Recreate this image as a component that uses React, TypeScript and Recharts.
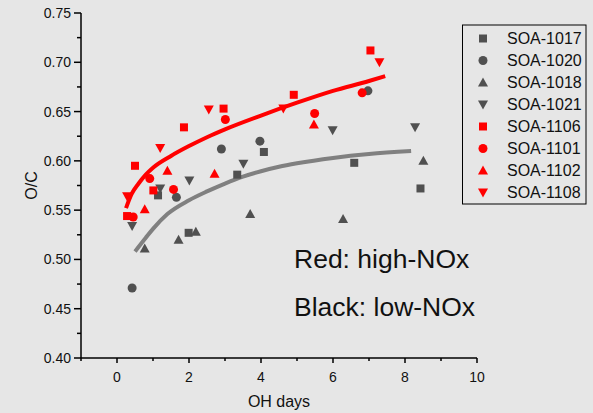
import { ScatterChart, Scatter, XAxis, YAxis, Customized } from "recharts";

type Pt = [number, number];

// measured O/C ratios vs. OH exposure (days)
const soa1017: Pt[] = [[1.14, 0.565], [1.99, 0.527], [3.34, 0.586], [4.08, 0.609], [6.59, 0.598], [8.43, 0.572]];
const soa1020: Pt[] = [[0.42, 0.471], [1.65, 0.563], [2.9, 0.612], [3.97, 0.62], [6.97, 0.671]];
const soa1018: Pt[] = [[0.77, 0.511], [1.71, 0.52], [2.19, 0.528], [3.7, 0.546], [6.28, 0.541], [8.51, 0.6]];
const soa1021: Pt[] = [[0.42, 0.534], [1.2, 0.572], [2.01, 0.58], [3.51, 0.597], [5.99, 0.631], [8.28, 0.634]];
const soa1106: Pt[] = [[0.28, 0.544], [0.5, 0.595], [1.01, 0.57], [1.86, 0.634], [2.96, 0.653], [4.91, 0.667], [7.04, 0.712]];
const soa1101: Pt[] = [[0.45, 0.543], [0.91, 0.582], [1.57, 0.571], [3.01, 0.642], [5.49, 0.648], [6.81, 0.669]];
const soa1102: Pt[] = [[0.77, 0.551], [1.4, 0.59], [2.71, 0.587], [5.47, 0.637]];
const soa1108: Pt[] = [[0.28, 0.564], [1.2, 0.613], [2.55, 0.652], [4.62, 0.653], [7.29, 0.7]];

// fitted trend lines
const highNoxFit: Pt[] = [
  [0.25, 0.552], [0.4, 0.566], [0.6, 0.577], [0.8, 0.586], [1.0, 0.593], [1.5, 0.605], [2.0, 0.615],
  [2.5, 0.624], [3.0, 0.632], [4.0, 0.646], [5.0, 0.659], [6.0, 0.671], [7.0, 0.681], [7.45, 0.686],
];
const lowNoxFit: Pt[] = [
  [0.5, 0.508], [0.8, 0.522], [1.0, 0.531], [1.4, 0.546], [2.0, 0.56], [2.5, 0.569], [3.0, 0.577],
  [3.5, 0.584], [4.0, 0.5895], [4.5, 0.594], [5.0, 0.5975], [6.0, 0.603], [7.0, 0.607], [8.17, 0.61],
];

const xTicks = [-1, 0, 1, 2, 3, 4, 5, 6, 7, 8, 9, 10];
const yTicks = [0.4, 0.425, 0.45, 0.475, 0.5, 0.525, 0.55, 0.575, 0.6, 0.625, 0.65, 0.675, 0.7, 0.725, 0.75];

const GRAY = "#505050";
const RED = "#ff0000";
const FONT = "'Liberation Sans', Arial, sans-serif";

type Kind = "square" | "circle" | "up" | "down";

const series: { name: string; data: Pt[]; kind: Kind; color: string }[] = [
  { name: "SOA-1017", data: soa1017, kind: "square", color: GRAY },
  { name: "SOA-1020", data: soa1020, kind: "circle", color: GRAY },
  { name: "SOA-1018", data: soa1018, kind: "up", color: GRAY },
  { name: "SOA-1021", data: soa1021, kind: "down", color: GRAY },
  { name: "SOA-1106", data: soa1106, kind: "square", color: RED },
  { name: "SOA-1101", data: soa1101, kind: "circle", color: RED },
  { name: "SOA-1102", data: soa1102, kind: "up", color: RED },
  { name: "SOA-1108", data: soa1108, kind: "down", color: RED },
];

const toRows = (pts: Pt[]) => pts.map(([x, y]) => ({ x, y }));

function Marker({ kind, cx, cy, fill }: { kind: Kind; cx: number; cy: number; fill: string }) {
  if (kind === "square") return <rect x={cx - 4} y={cy - 4} width={8} height={8} fill={fill} />;
  if (kind === "circle") return <circle cx={cx} cy={cy} r={4.5} fill={fill} />;
  if (kind === "up")
    return <polygon points={`${cx},${cy - 5} ${cx + 5},${cy + 4} ${cx - 5},${cy + 4}`} fill={fill} />;
  return <polygon points={`${cx - 5},${cy - 4} ${cx + 5},${cy - 4} ${cx},${cy + 5}`} fill={fill} />;
}

const XTick = ({ x, y, payload }: any) => {
  const major = payload.value % 2 === 0;
  return (
    <g>
      <line x1={x} y1={y} x2={x} y2={y + (major ? 5 : 3)} stroke="#000" strokeWidth={1.5} />
      {major && (
        <text x={x} y={y + 24} textAnchor="middle" fontSize={14} fontFamily={FONT} fill="#111">
          {payload.value}
        </text>
      )}
    </g>
  );
};

const YTick = ({ x, y, payload }: any) => {
  const major = Math.round(payload.value * 1000) % 50 === 0;
  return (
    <g>
      <line x1={x} y1={y} x2={x - (major ? 7 : 4)} y2={y} stroke="#000" strokeWidth={1.5} />
      {major && (
        <text x={x - 10} y={y + 5} textAnchor="end" fontSize={14} fontFamily={FONT} fill="#111">
          {payload.value.toFixed(2)}
        </text>
      )}
    </g>
  );
};

const Annotations = () => (
  <g fontFamily={FONT}>
    <text x={31} y={185.5} transform="rotate(-90 31 185.5)" textAnchor="middle" dominantBaseline="central" fontSize={16} fill="#111">
      O/C
    </text>
    <text x={279} y={407} textAnchor="middle" fontSize={16} fill="#111">
      OH days
    </text>
    <text x={294} y={268} fontSize={26.5} fill="#111">
      Red: high-NOx
    </text>
    <text x={294} y={316} fontSize={26.5} fill="#111">
      Black: low-NOx
    </text>
    <rect x={462.5} y={25} width={123.5} height={179} fill="none" stroke="#000" strokeWidth={1} />
    {series.map((s, i) => {
      const cy = 38.5 + i * 22;
      return (
        <g key={s.name}>
          <Marker kind={s.kind} cx={483} cy={cy} fill={s.color} />
          <text x={507} y={cy + 5.5} fontSize={16} fill="#111">
            {s.name}
          </text>
        </g>
      );
    })}
  </g>
);

export default function App() {
  return (
    <div style={{ width: 593, height: 413, background: "#e6e6e6" }}>
      <style>{`body{margin:0}`}</style>
      <ScatterChart width={593} height={413} margin={{ top: 13, right: 116, bottom: 0, left: 0 }}>
        <XAxis
          type="number"
          dataKey="x"
          domain={[-1, 10]}
          ticks={xTicks}
          interval={0}
          height={55}
          tickSize={0}
          tickMargin={0}
          tickLine={false}
          axisLine={{ stroke: "#000", strokeWidth: 1.5 }}
          tick={<XTick />}
          allowDataOverflow
        />
        <YAxis
          type="number"
          dataKey="y"
          domain={[0.4, 0.75]}
          ticks={yTicks}
          interval={0}
          width={81}
          tickSize={0}
          tickMargin={0}
          tickLine={false}
          axisLine={{ stroke: "#000", strokeWidth: 1.5 }}
          tick={<YTick />}
          allowDataOverflow
        />
        <Scatter
          data={toRows(lowNoxFit)}
          line={{ stroke: "#808080", strokeWidth: 4 }}
          lineJointType="monotoneX"
          shape={() => <g />}
          isAnimationActive={false}
        />
        <Scatter
          data={toRows(highNoxFit)}
          line={{ stroke: RED, strokeWidth: 4 }}
          lineJointType="monotoneX"
          shape={() => <g />}
          isAnimationActive={false}
        />
        {series.map((s) => (
          <Scatter
            key={s.name}
            name={s.name}
            data={toRows(s.data)}
            isAnimationActive={false}
            shape={(p: any) => <Marker kind={s.kind} cx={p.cx} cy={p.cy} fill={s.color} />}
          />
        ))}
        <Customized component={Annotations} />
      </ScatterChart>
    </div>
  );
}
